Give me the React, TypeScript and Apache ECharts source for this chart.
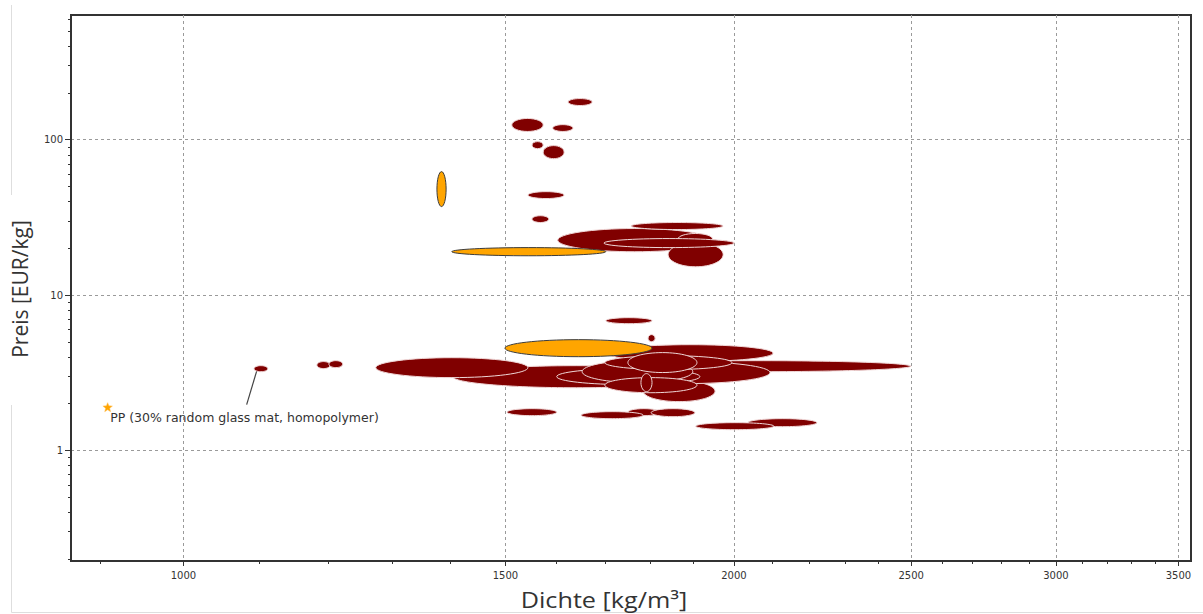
import React, { useEffect, useRef } from "react";
import * as echarts from "echarts";

// Material property ranges (density in kg/m³, price in EUR/kg), in drawing order
const densityMin = [1623, 1512, 1592, 1551, 1573, 1543, 1551, 1376, 1602, 1757, 1864, 1841, 1698, 1402, 1093, 1183, 1201, 1702, 1795, 1689, 1404, 1274, 1704, 1784, 1689, 1600, 1652, 1700, 1750, 1700, 1779, 1499, 1503, 1750, 1650, 1802, 2036, 1906];
const densityMax = [1673, 1573, 1633, 1573, 1615, 1615, 1584, 1392, 1945, 1973, 1947, 1973, 2001, 1702, 1112, 1203, 1222, 1804, 1811, 2499, 1916, 1543, 2101, 1953, 2093, 1916, 1899, 1995, 1909, 1909, 1804, 1804, 1600, 1822, 1784, 1904, 2220, 2103];
const priceMin = [166, 113, 113, 87.6, 75.5, 41.8, 29.3, 37.1, 19.0, 26.4, 21.1, 15.2, 20.2, 17.9, 3.21, 3.36, 3.41, 6.54, 5.01, 3.21, 2.53, 2.94, 3.73, 2.06, 2.69, 2.65, 2.73, 3.31, 3.17, 2.35, 2.39, 4.01, 1.673, 1.673, 1.6, 1.648, 1.421, 1.359];
const priceMax = [184, 137, 125, 97.2, 91.6, 46.3, 32.4, 62.3, 26.8, 29.3, 24.9, 21.8, 23.1, 20.2, 3.51, 3.73, 3.78, 7.15, 5.56, 3.78, 3.51, 3.95, 4.79, 2.81, 3.73, 3.36, 3.78, 4.07, 4.26, 2.94, 3.12, 5.16, 1.856, 1.856, 1.775, 1.856, 1.6, 1.508];
// 0 = material, 1 = highlighted material
const materialGroup = [0, 0, 0, 0, 0, 0, 0, 1, 0, 0, 0, 0, 0, 1, 0, 0, 0, 0, 0, 0, 0, 0, 0, 0, 0, 0, 0, 0, 0, 0, 0, 1, 0, 0, 0, 0, 0, 0];

const xMajorTicks = [1000, 1500, 2000, 2500, 3000, 3500];
const xMinorTicks = [900, 1100, 1200, 1300, 1400, 1600, 1700, 1800, 1900, 2100, 2200, 2300, 2400, 2600, 2700, 2800, 2900, 3100, 3200, 3300, 3400];
const yMajorTicks = [1, 10, 100];
const yMinorTicks = [0.2, 0.3, 0.4, 0.5, 0.6, 0.7, 0.8, 0.9, 2, 3, 4, 5, 6, 7, 8, 9, 20, 30, 40, 50, 60, 70, 80, 90, 200, 300, 400, 500, 600];

const xTitle = "Dichte [kg/m³]";
const yTitle = "Preis [EUR/kg]";
const annotationLabel = "PP (30% random glass mat, homopolymer)";
const annotationAnchor = [909, 1.884];
const annotatedIndex = 14;

const X_MIN = 868;
const X_MAX = 3556;
const Y_MIN = 0.194;
const Y_MAX = 635;

export default function App() {
  const ref = useRef<HTMLDivElement>(null);

  useEffect(() => {
    if (!ref.current) return;
    const chart = echarts.init(ref.current, undefined, { renderer: "svg" });

    const axisColor = "#333";
    const labelFont = "DejaVu Sans";

    const baseX = {
      type: "log" as const,
      logBase: 10,
      min: X_MIN,
      max: X_MAX,
      position: "bottom" as const,
      gridIndex: 0,
    };
    const baseY = {
      type: "log" as const,
      logBase: 10,
      min: Y_MIN,
      max: Y_MAX,
      position: "left" as const,
      gridIndex: 0,
    };

    const ellipseData = densityMin.map((d, i) => [d, densityMax[i], priceMin[i], priceMax[i], materialGroup[i]]);

    const ppCenter = [
      Math.sqrt(densityMin[annotatedIndex] * densityMax[annotatedIndex]),
      Math.sqrt(priceMin[annotatedIndex] * priceMax[annotatedIndex]),
    ];

    const option: any = {
      animation: false,
      backgroundColor: "#fff",
      grid: {
        left: 71,
        right: 12,
        top: 15,
        bottom: 53,
        show: true,
        borderColor: axisColor,
        borderWidth: 2,
        containLabel: false,
      },
      xAxis: [
        {
          ...baseX,
          axisLine: { show: true, onZero: false, lineStyle: { color: axisColor, width: 2 } },
          axisTick: { show: true, length: 5, customValues: xMajorTicks, lineStyle: { color: axisColor, width: 1 } },
          axisLabel: {
            show: true,
            customValues: xMajorTicks,
            color: axisColor,
            fontSize: 10,
            fontFamily: labelFont,
            margin: 9,
            formatter: (v: number) => String(Math.round(v)),
          },
          splitLine: { show: true, lineStyle: { color: "#9a9a9a", width: 1, type: [3, 3] } },
          minorTick: { show: false },
          minorSplitLine: { show: false },
        },
        {
          ...baseX,
          axisLine: { show: false, onZero: false },
          axisTick: { show: true, length: 3, customValues: xMinorTicks, lineStyle: { color: axisColor, width: 1 } },
          axisLabel: { show: false },
          splitLine: { show: false },
        },
      ],
      yAxis: [
        {
          ...baseY,
          axisLine: { show: true, onZero: false, lineStyle: { color: axisColor, width: 2 } },
          axisTick: { show: true, length: 6, customValues: yMajorTicks, lineStyle: { color: axisColor, width: 1 } },
          axisLabel: {
            show: true,
            customValues: yMajorTicks,
            color: axisColor,
            fontSize: 10,
            fontFamily: labelFont,
            margin: 8,
            formatter: (v: number) => String(Math.round(v)),
          },
          splitLine: { show: true, lineStyle: { color: "#9a9a9a", width: 1, type: [3, 3] } },
          minorTick: { show: false },
          minorSplitLine: { show: false },
        },
        {
          ...baseY,
          axisLine: { show: false, onZero: false },
          axisTick: { show: true, length: 3, customValues: yMinorTicks, lineStyle: { color: axisColor, width: 1 } },
          axisLabel: { show: false },
          splitLine: { show: false },
        },
      ],
      series: [
        {
          type: "custom",
          name: "Werkstoffe",
          coordinateSystem: "cartesian2d",
          xAxisIndex: 0,
          yAxisIndex: 0,
          clip: true,
          encode: { x: [0, 1], y: [2, 3] },
          data: ellipseData,
          renderItem: (params: any, api: any) => {
            const p1 = api.coord([api.value(0), api.value(2)]);
            const p2 = api.coord([api.value(1), api.value(3)]);
            const highlighted = api.value(4) === 1;
            return {
              type: "ellipse",
              shape: {
                cx: (p1[0] + p2[0]) / 2,
                cy: (p1[1] + p2[1]) / 2,
                rx: Math.abs(p2[0] - p1[0]) / 2,
                ry: Math.abs(p2[1] - p1[1]) / 2,
              },
              style: highlighted
                ? { fill: "#FFA500", stroke: "#3c3c3c", lineWidth: 1 }
                : { fill: "#800000", stroke: "#efd6d6", lineWidth: 1 },
            };
          },
        },
        {
          type: "custom",
          name: "Annotation",
          coordinateSystem: "cartesian2d",
          xAxisIndex: 0,
          yAxisIndex: 0,
          clip: false,
          silent: true,
          data: [annotationAnchor],
          renderItem: (params: any, api: any) => {
            const a = api.coord([api.value(0), api.value(1)]);
            const t = api.coord(ppCenter);
            const pts: number[][] = [];
            for (let k = 0; k < 10; k++) {
              const r = k % 2 === 0 ? 5 : 2.2;
              const ang = -Math.PI / 2 + (k * Math.PI) / 5;
              pts.push([a[0] + r * Math.cos(ang), a[1] + r * Math.sin(ang)]);
            }
            return {
              type: "group",
              children: [
                {
                  type: "line",
                  shape: { x1: a[0] + 139, y1: a[1] - 3, x2: t[0] - 4.3, y2: t[1] + 2.7 },
                  style: { stroke: "#444", lineWidth: 1.2 },
                },
                {
                  type: "polygon",
                  shape: { points: pts },
                  style: { fill: "#FFA500", stroke: "#FFC060", lineWidth: 0.5 },
                },
                {
                  type: "text",
                  style: {
                    x: a[0] + 2.5,
                    y: a[1] + 9.5,
                    text: annotationLabel,
                    fill: "#333",
                    fontSize: 12.5,
                    fontFamily: labelFont,
                    align: "left",
                    verticalAlign: "middle",
                  },
                },
              ],
            };
          },
        },
      ],
      graphic: [
        {
          type: "line",
          silent: true,
          shape: { x1: 11.5, y1: 5, x2: 11.5, y2: 195 },
          style: { stroke: "#dedede", lineWidth: 1 },
        },
        {
          type: "line",
          silent: true,
          shape: { x1: 11.5, y1: 405, x2: 11.5, y2: 612.5 },
          style: { stroke: "#dedede", lineWidth: 1 },
        },
        {
          type: "line",
          silent: true,
          shape: { x1: 11.5, y1: 612.5, x2: 1203, y2: 612.5 },
          style: { stroke: "#dedede", lineWidth: 1 },
        },
        {
          type: "text",
          silent: true,
          x: 604,
          y: 600,
          scaleX: 1.2,
          style: {
            text: xTitle,
            fill: "#333",
            fontSize: 21,
            fontFamily: "Open Sans",
            align: "center",
            verticalAlign: "middle",
          },
        },
        {
          type: "text",
          silent: true,
          x: 20,
          y: 289,
          rotation: Math.PI / 2,
          style: {
            text: yTitle,
            fill: "#333",
            fontSize: 21,
            fontFamily: "Open Sans",
            align: "center",
            verticalAlign: "middle",
          },
        },
      ],
    };

    chart.setOption(option);
    return () => {
      chart.dispose();
    };
  }, []);

  return (
    <div
      ref={ref}
      style={{ position: "absolute", left: 0, top: 0, width: 1203, height: 614, background: "#fff" }}
    />
  );
}
